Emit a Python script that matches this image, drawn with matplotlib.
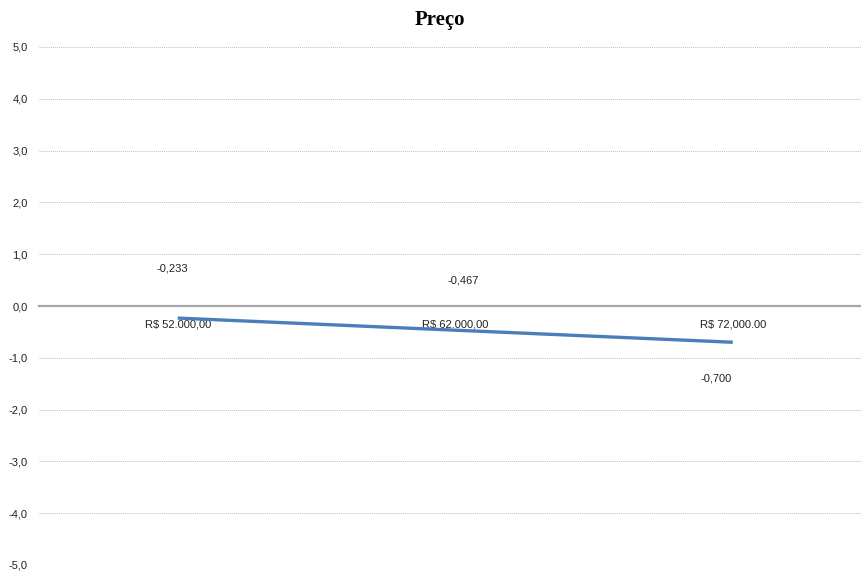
import matplotlib
matplotlib.use("Agg")
import matplotlib.pyplot as plt
from matplotlib.ticker import FuncFormatter

# valores de utilidade por nível de preço
precos = ["R$ 52.000,00", "R$ 62.000,00", "R$ 72,000.00"]
utilidade = [-0.233, -0.467, -0.700]
rotulos = ["-0,233", "-0,467", "-0,700"]
# deslocamento (pt) dos rótulos de dados
desloc = [(-4, 36), (6, 36), (-12, -26)]

AZUL = "#4a7ebb"
CINZA = "#bdbdbd"

fig = plt.figure(figsize=(8.61, 5.72), dpi=100)
ax = fig.add_axes([39 / 861, 1 - 565 / 572, (861 - 39) / 861, (565 - 47) / 572])

xs = list(range(len(precos)))
ax.plot(xs, utilidade, color=AZUL, lw=2.4, solid_capstyle="butt", zorder=3)

for x, v, t, (dx, dy) in zip(xs, utilidade, rotulos, desloc):
    ax.annotate(t, xy=(x, v), xytext=(dx, dy), textcoords="offset points",
                ha="center", va="center", fontsize=8, family="Liberation Sans",
                color="#222222")

ax.set_xlim(-0.5, 2.462)
ax.set_ylim(-5, 5)
ax.set_yticks([i for i in range(-5, 6)])
ax.yaxis.set_major_formatter(FuncFormatter(lambda v, p: f"{v:.1f}".replace(".", ",")))
ax.grid(axis="y", color=CINZA, ls=(0, (1, 1)), lw=0.7)
ax.set_xticks(xs)
ax.set_xticklabels(precos)

for s in ["top", "right", "left"]:
    ax.spines[s].set_visible(False)
ax.spines["bottom"].set_position(("data", 0))
ax.spines["bottom"].set_color("#a6a6a6")
ax.spines["bottom"].set_linewidth(1.6)
ax.tick_params(axis="x", length=0, pad=10, labelsize=8, labelcolor="#222222")
ax.tick_params(axis="y", length=0, pad=8, labelsize=8, labelcolor="#222222")
for lab in ax.get_xticklabels() + ax.get_yticklabels():
    lab.set_family("Liberation Sans")

fig.text(440 / 861, 1 - 20 / 572, "Preço", ha="center", va="center",
         fontsize=15, weight="bold", family="Liberation Serif")

fig.savefig("out.png", dpi=100, facecolor="white")
